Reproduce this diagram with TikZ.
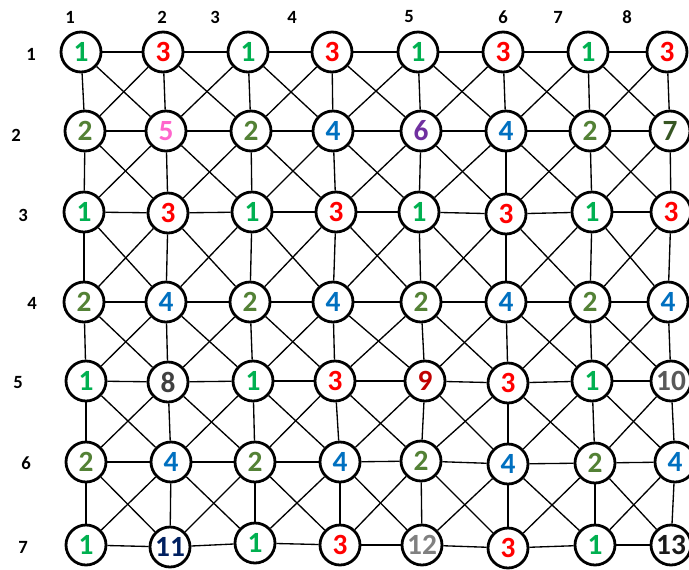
\documentclass[tikz,border=0pt]{standalone}
\usepackage{fontspec}
\setmainfont{Carlito}
\definecolor{cA}{HTML}{00B050}
\definecolor{cB}{HTML}{538135}
\definecolor{cC}{HTML}{FF0000}
\definecolor{cD}{HTML}{0070C0}
\definecolor{cE}{HTML}{FF66CC}
\definecolor{cF}{HTML}{7030A0}
\definecolor{cG}{HTML}{375623}
\definecolor{cH}{HTML}{404040}
\definecolor{cI}{HTML}{C00000}
\definecolor{cJ}{HTML}{595959}
\definecolor{cK}{HTML}{002060}
\definecolor{cL}{HTML}{808080}
\definecolor{cM}{HTML}{1A1A1A}
\tikzset{
  v/.style={circle, draw=black, line width=2.1pt, fill=white, minimum size=30pt, inner sep=0pt,
            font=\fontsize{22}{24}\selectfont\bfseries},
  e/.style={line width=1.0pt, black},
  lab/.style={font=\fontsize{14}{16}\selectfont\bfseries, inner sep=0pt},
  v1/.style={v, text=cA}, v2/.style={v, text=cB}, v3/.style={v, text=cC},
  v4/.style={v, text=cD}, v5/.style={v, text=cE}, v6/.style={v, text=cF},
  v7/.style={v, text=cG}, v8/.style={v, text=cH}, v9/.style={v, text=cI},
  v10/.style={v, text=cJ}, v11/.style={v, text=cK}, v12/.style={v, text=cL},
  v13/.style={v, text=cM}
}
\begin{document}
\begin{tikzpicture}[x=0.75pt,y=-0.75pt]
\useasboundingbox (0,0) rectangle (689,569);
% column labels
\node[lab] (cl1) at (70,17) {1};
\node[lab] (cl2) at (162,17) {2};
\node[lab] (cl3) at (215,17) {3};
\node[lab] (cl4) at (292,17) {4};
\node[lab] (cl5) at (409,17) {5};
\node[lab] (cl6) at (503,17) {6};
\node[lab] (cl7) at (558,17) {7};
\node[lab] (cl8) at (627,17) {8};
% row labels
\node[lab] (rl1) at (31,54) {1};
\node[lab] (rl2) at (16,135) {2};
\node[lab] (rl3) at (23,215) {3};
\node[lab] (rl4) at (32,303) {4};
\node[lab] (rl5) at (18,383) {5};
\node[lab] (rl6) at (26,463) {6};
\node[lab] (rl7) at (23,547) {7};
% row 1
\node[v1] (n-1-1) at (81,52) {1};
\node[v3] (n-1-2) at (163,52) {3};
\node[v1] (n-1-3) at (248,52) {1};
\node[v3] (n-1-4) at (332,52) {3};
\node[v1] (n-1-5) at (418,52) {1};
\node[v3] (n-1-6) at (503,52) {3};
\node[v1] (n-1-7) at (588,52) {1};
\node[v3] (n-1-8) at (667,52) {3};
% row 2
\node[v2] (n-2-1) at (85,131) {2};
\node[v5] (n-2-2) at (166,131) {5};
\node[v2] (n-2-3) at (251,131) {2};
\node[v4] (n-2-4) at (333,131) {4};
\node[v6] (n-2-5) at (421,131) {6};
\node[v4] (n-2-6) at (506,131) {4};
\node[v2] (n-2-7) at (590,131) {2};
\node[v7] (n-2-8) at (670,131) {7};
% row 3
\node[v1] (n-3-1) at (84,212) {1};
\node[v3] (n-3-2) at (168,213) {3};
\node[v1] (n-3-3) at (252,212) {1};
\node[v3] (n-3-4) at (336,212) {3};
\node[v1] (n-3-5) at (419,212) {1};
\node[v3] (n-3-6) at (506,214) {3};
\node[v1] (n-3-7) at (592,212) {1};
\node[v3] (n-3-8) at (671,212) {3};
% row 4
\node[v2] (n-4-1) at (84,302) {2};
\node[v4] (n-4-2) at (166,302) {4};
\node[v2] (n-4-3) at (250,302) {2};
\node[v4] (n-4-4) at (333,302) {4};
\node[v2] (n-4-5) at (421,302) {2};
\node[v4] (n-4-6) at (506,302) {4};
\node[v2] (n-4-7) at (590,302) {2};
\node[v4] (n-4-8) at (668,302) {4};
% row 5
\node[v1] (n-5-1) at (86,381) {1};
\node[v8] (n-5-2) at (168,382) {8};
\node[v1] (n-5-3) at (253,381) {1};
\node[v3] (n-5-4) at (335,381) {3};
\node[v9] (n-5-5) at (425,381) {9};
\node[v3] (n-5-6) at (508,383) {3};
\node[v1] (n-5-7) at (592,381) {1};
\node[v10] (n-5-8) at (671,381) {10};
% row 6
\node[v2] (n-6-1) at (86,462) {2};
\node[v4] (n-6-2) at (171,462) {4};
\node[v2] (n-6-3) at (255,462) {2};
\node[v4] (n-6-4) at (340,462) {4};
\node[v2] (n-6-5) at (421,461) {2};
\node[v4] (n-6-6) at (508,464) {4};
\node[v2] (n-6-7) at (595,463) {2};
\node[v4] (n-6-8) at (675,462) {4};
% row 7
\node[v1] (n-7-1) at (86,545) {1};
\node[v11] (n-7-2) at (170,547) {11};
\node[v1] (n-7-3) at (255,543) {1};
\node[v3] (n-7-4) at (340,545) {3};
\node[v12] (n-7-5) at (422,545) {12};
\node[v3] (n-7-6) at (508,548) {3};
\node[v1] (n-7-7) at (595,545) {1};
\node[v13] (n-7-8) at (671,545) {13};
% horizontal edges
\foreach \r in {1,...,7}{
  \foreach \c [evaluate=\c as \cn using int(\c+1)] in {1,...,7}{
    \draw[e] (n-\r-\c) -- (n-\r-\cn);
  }
}
% vertical edges
\foreach \r [evaluate=\r as \rn using int(\r+1)] in {1,...,6}{
  \foreach \c in {1,...,8}{
    \draw[e] (n-\r-\c) -- (n-\rn-\c);
  }
}
% diagonal edges
\foreach \r [evaluate=\r as \rn using int(\r+1)] in {1,...,6}{
  \foreach \c [evaluate=\c as \cn using int(\c+1)] in {1,...,7}{
    \draw[e] (n-\r-\c) -- (n-\rn-\cn);
    \draw[e] (n-\r-\cn) -- (n-\rn-\c);
  }
}
\end{tikzpicture}
\end{document}
